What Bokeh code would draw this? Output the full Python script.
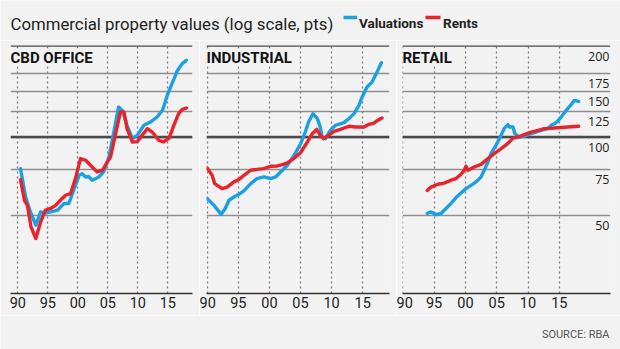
from bokeh.plotting import figure
from bokeh.layouts import column, row
from bokeh.models import Range1d, FixedTicker, Label, Span
from bokeh.embed import file_html
from bokeh.resources import INLINE

# ---------------- data ----------------
TITLE = "Commercial property values (log scale, pts)"
SOURCE = "SOURCE: RBA"
PANEL_NAMES = ["CBD OFFICE", "INDUSTRIAL", "RETAIL"]
SERIES_NAMES = ["Valuations", "Rents"]
X_TICKS = [1990, 1995, 2000, 2005, 2010, 2015]
X_TICK_LABELS = ["90", "95", "00", "05", "10", "15"]
Y_GRID = [50, 75, 100, 125, 150, 175]
Y_LABEL_VALUES = [175, 150, 125, 100, 75, 50]
Y_LABELS = ["175", "150", "125", "100", "75", "50"]
Y_TOP_LABEL = "200"

cbd_val_years = [1990.45, 1991.3, 1992.1, 1993.0, 1993.8, 1994.6, 1995.5, 1996.6, 1997.7, 1998.5,
                 1999.3, 2000.2, 2000.7, 2001.3, 2001.8, 2002.4, 2003.5, 2004.3, 2005.2, 2006.0,
                 2006.8, 2007.4, 2008.2, 2009.1, 2009.9, 2011.0, 2012.1, 2013.2, 2014.1, 2014.9,
                 2015.7, 2016.6, 2017.4, 2018.1]
cbd_val = [75.5, 58.8, 51.5, 45.8, 51.5, 51.0, 51.5, 52.3, 55.5, 55.5,
           62.3, 71.2, 72.3, 70.2, 70.5, 68.2, 70.2, 73.4, 84.0, 104.5,
           130.4, 126.6, 110.9, 98.6, 101.5, 110.9, 114.2, 119.4, 126.6, 144.6,
           160.4, 180.4, 191.6, 197.3]

cbd_rent_years = [1990.45, 1991.1, 1991.6, 1992.2, 1993.0, 1993.8, 1994.6, 1995.45, 1996.3, 1997.1,
                  1997.95, 1998.8, 1999.6, 2000.45, 2001.3, 2002.4, 2003.2, 2004.1, 2004.9, 2005.45,
                  2006.3, 2007.1, 2007.7, 2008.2, 2009.1, 2009.9, 2010.7, 2011.6, 2012.4, 2013.5,
                  2014.3, 2015.2, 2016.0, 2016.8, 2017.4, 2018.1]
cbd_rent = [68.6, 57.1, 54.6, 45.1, 40.7, 47.1, 52.3, 53.1, 54.6, 57.1,
            59.7, 60.6, 69.2, 82.6, 81.4, 76.7, 73.4, 74.5, 80.1, 83.8,
            103.0, 124.8, 124.8, 107.7, 95.7, 96.0, 101.5, 107.7, 104.5, 97.1,
            95.7, 99.1, 110.9, 123.0, 127.8, 129.3]

ind_val_years = [1990.0, 1991.1, 1992.25, 1992.9, 1993.5, 1994.3, 1995.1, 1995.9, 1997.0, 1998.0,
                 1999.1, 2000.2, 2001.0, 2001.8, 2002.9, 2003.9, 2005.0, 2005.8, 2006.3, 2007.0,
                 2007.7, 2008.1, 2008.5, 2009.0, 2009.8, 2010.6, 2012.0, 2012.8, 2013.6, 2014.4,
                 2014.9, 2015.7, 2016.5, 2017.3, 2018.0]
ind_val = [58.0, 54.6, 50.4, 53.1, 57.1, 58.8, 60.2, 62.1, 66.2, 69.2,
           70.2, 69.2, 70.2, 73.4, 77.9, 84.4, 94.0, 105.0, 114.2, 123.0,
           117.7, 110.9, 100.0, 98.6, 106.0, 110.9, 113.6, 117.7, 123.0, 132.3,
           142.4, 155.7, 162.7, 177.7, 193.0]

ind_rent_years = [1990.0, 1990.8, 1991.2, 1992.4, 1993.2, 1994.3, 1995.1, 1995.9, 1997.0, 1998.0,
                  1999.1, 2000.2, 2001.3, 2002.1, 2002.9, 2003.9, 2005.0, 2006.1, 2006.9, 2007.6,
                  2008.2, 2008.7, 2009.5, 2010.4, 2011.4, 2012.8, 2013.8, 2015.2, 2016.0, 2016.8,
                  2017.4, 2018.1]
ind_rent = [76.0, 71.2, 66.2, 63.3, 64.2, 67.2, 68.6, 71.2, 74.5, 75.1,
            75.6, 77.2, 77.4, 78.3, 79.5, 82.6, 87.0, 95.7, 103.0, 107.0,
            101.5, 98.6, 101.5, 105.2, 107.0, 110.0, 109.3, 109.3, 111.9, 113.2,
            115.9, 118.3]

ret_val_years = [1993.9, 1994.5, 1995.3, 1996.1, 1996.9, 1997.7, 1998.5, 1999.3, 2000.1, 2000.9,
                 2001.7, 2002.5, 2003.0, 2003.6, 2004.1, 2004.9, 2005.7, 2006.2, 2006.8, 2007.0,
                 2007.6, 2007.9, 2008.6, 2009.4, 2010.5, 2012.1, 2013.2, 2013.7, 2014.5, 2015.3,
                 2016.1, 2016.9, 2017.4, 2018.1]
ret_val = [50.8, 51.5, 50.3, 50.8, 53.1, 55.5, 58.5, 60.9, 63.3, 65.2,
           67.2, 70.2, 74.5, 80.1, 86.5, 93.0, 101.5, 108.0, 111.6, 109.3,
           109.3, 103.0, 100.0, 100.9, 103.0, 106.0, 107.7, 110.9, 113.6, 119.4,
           126.6, 133.2, 138.4, 137.1]

ret_rent_years = [1993.9, 1994.5, 1995.6, 1996.6, 1997.7, 1998.5, 1999.3, 1999.8, 2000.1, 2000.4,
                  2001.4, 2002.5, 2003.6, 2004.6, 2005.7, 2006.8, 2007.6, 2008.4, 2009.4, 2010.5,
                  2011.6, 2012.6, 2014.2, 2015.8, 2018.1]
ret_rent = [62.3, 64.2, 65.8, 66.5, 68.2, 69.2, 71.9, 74.5, 77.2, 74.5,
            76.7, 78.5, 82.6, 86.3, 90.2, 94.5, 99.1, 100.0, 102.1, 104.5,
            106.0, 107.7, 108.3, 109.0, 110.0]

# ---------------- style ----------------
BG = "#f2f2f2"
BLUE = "#1ba1e2"
RED = "#e8232b"
GRID = "#8e8e8e"
DARK = "#4a4a4a"
INK = "#222222"
NARROW = "Roboto"
PLAIN = "'Open Sans'"
Y_MIN, Y_MAX = 25, 225


def bare(width, height):
    f = figure(width=width, height=height, x_range=Range1d(0, width), y_range=Range1d(height, 0),
               toolbar_location=None, output_backend="svg", min_border=0,
               x_axis_location=None, y_axis_location=None,
               background_fill_color=BG, border_fill_color=BG, outline_line_color=None)
    f.grid.visible = False
    return f


# header: title + legend (legend keys drawn in header pixel space)
hdr = bare(620, 40)
hdr.add_layout(Label(x=10, y=23, text=TITLE, text_font=NARROW, text_font_size="16.8px",
                     text_color=INK, text_baseline="alphabetic"))
hdr.segment(x0=[343, 425], y0=[17, 17], x1=[356.5, 440], y1=[17, 17],
            line_color=[BLUE, RED], line_width=3.5)
for lx, name in zip([358.5, 442.5], SERIES_NAMES):
    hdr.add_layout(Label(x=lx, y=22, text=name, text_font=NARROW, text_font_style="bold",
                         text_font_size="13.5px", text_color=INK, text_baseline="alphabetic"))


def panel(name, xr, fw, bl, br, vx, vy, rx, ry, ylabels=False):
    p = figure(frame_width=fw, frame_height=248, x_range=Range1d(*xr), y_range=Range1d(Y_MIN, Y_MAX),
               y_axis_type="log", toolbar_location=None, output_backend="svg",
               min_border_left=bl, min_border_right=br, min_border_top=5, min_border_bottom=22,
               y_axis_location=None, background_fill_color=BG, border_fill_color=BG,
               outline_line_color=None)
    p.xaxis.ticker = FixedTicker(ticks=X_TICKS)
    p.xaxis.major_label_overrides = {t: l for t, l in zip(X_TICKS, X_TICK_LABELS)}
    p.xaxis.axis_line_color = "#333333"
    p.xaxis.axis_line_width = 1.5
    p.xaxis.major_tick_line_color = None
    p.xaxis.minor_tick_line_color = None
    p.xaxis.major_tick_out = 0
    p.xaxis.major_tick_in = 0
    p.xaxis.major_label_standoff = 3
    p.xaxis.major_label_text_font = NARROW
    p.xaxis.major_label_text_font_size = "14.5px"
    p.xaxis.major_label_text_color = INK
    p.xgrid.grid_line_color = "#7a7a7a"
    p.xgrid.grid_line_dash = "2 3"
    p.xgrid.grid_line_width = 1.3
    p.ygrid.ticker = FixedTicker(ticks=Y_GRID)
    p.ygrid.grid_line_color = GRID
    p.ygrid.grid_line_width = 1.5
    p.add_layout(Span(location=100, dimension="width", line_color=DARK, line_width=2.5, level="underlay"))
    p.add_layout(Span(location=Y_MAX, dimension="width", line_color=DARK, line_width=2.5))
    p.line(vx, vy, line_color=BLUE, line_width=3.4, line_join="round", line_cap="round")
    p.line(rx, ry, line_color=RED, line_width=3.4, line_join="round", line_cap="round")
    p.add_layout(Label(x=xr[0], y=Y_MAX, y_offset=-12, x_offset=0, text=name, text_font=NARROW,
                       text_font_style="bold", text_font_size="15px", text_color="#111111",
                       text_baseline="alphabetic", background_fill_color=BG))
    if ylabels:
        p.add_layout(Label(x=xr[1], y=Y_MAX, x_offset=-1, y_offset=-11, text=Y_TOP_LABEL,
                           text_font=PLAIN, text_font_size="12.5px", text_color=INK,
                           text_align="right", text_baseline="middle"))
        for v, t in zip(Y_LABEL_VALUES, Y_LABELS):
            p.add_layout(Label(x=xr[1], y=v, x_offset=-1, y_offset=-10, text=t,
                               text_font=PLAIN, text_font_size="12.5px", text_color=INK,
                               text_align="right", text_baseline="middle"))
    return p


p1 = panel(PANEL_NAMES[0], (1988.78, 2019.11), 182, 10, 7, cbd_val_years, cbd_val, cbd_rent_years, cbd_rent)
p2 = panel(PANEL_NAMES[1], (1989.89, 2019.31), 183, 7, 7, ind_val_years, ind_val, ind_rent_years, ind_rent)
p3 = panel(PANEL_NAMES[2], (1989.95, 2023.18), 208, 6, 10, ret_val_years, ret_val, ret_rent_years, ret_rent,
           ylabels=True)

ftr = bare(620, 34)
ftr.add_layout(Label(x=609, y=19, text=SOURCE, text_font=NARROW, text_font_size="11px",
                     text_color="#555555", text_align="right", text_baseline="middle"))

layout = column(hdr, row(p1, p2, p3), ftr)
open("out.html", "w").write(file_html(layout, INLINE))
